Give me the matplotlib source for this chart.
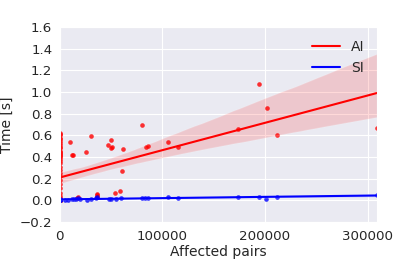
import numpy as np
import pandas as pd
import matplotlib
matplotlib.use('Agg')
import matplotlib.pyplot as plt
import seaborn as sns

# AI runs: affected pairs vs time (many runs with 0 pairs, most hidden near the origin)
ai_x = [0] * 57 + [
    9750, 11400, 13000, 16300, 18000, 25400, 30000, 35800, 35800, 35800,
    47100, 49400, 49500, 51000, 53700, 58200, 60500, 61500, 80300, 84000,
    85500, 105000, 114800, 174000, 194100, 201600, 212000, 309000,
]
ai_y = [
    0.62, 0.61, 0.60, 0.58, 0.57, 0.55, 0.53, 0.51, 0.49, 0.48,
    0.46, 0.45, 0.44, 0.43, 0.42, 0.41, 0.40, 0.38, 0.36, 0.34,
    0.31, 0.28, 0.25, 0.22, 0.19, 0.15, 0.11, 0.07, 0.04, 0.02, 0.01,
    0.005, 0.005, 0.005, 0.005, 0.005, 0.005, 0.005, 0.005, 0.005, 0.005,
    0.005, 0.005, 0.005, 0.005, 0.005, 0.005, 0.005, 0.005, 0.005, 0.005,
    0.005, 0.005, 0.005, 0.005, 0.005, 0.005,
    0.54, 0.42, 0.42, 0.02, 0.03, 0.45, 0.59, 0.03, 0.05, 0.06,
    0.51, 0.56, 0.48, 0.49, 0.065, 0.09, 0.27, 0.47, 0.70, 0.49,
    0.50, 0.54, 0.49, 0.66, 1.07, 0.85, 0.60, 0.67,
]

# SI runs
si_x = [
    0, 0, 0, 0, 0, 5000, 8000, 12000, 14000, 16000, 18000, 20000, 26000,
    30000, 35000, 36000, 48000, 50000, 55000, 60000, 80000, 83000, 86000,
    105000, 115000, 174000, 194000, 201000, 212000, 309000,
]
si_y = [
    0.0, 0.005, 0.01, 0.0, 0.005, 0.0, 0.005, 0.01, 0.01, 0.015, 0.02, 0.01, 0.005,
    0.01, 0.02, 0.035, 0.01, 0.015, 0.01, 0.02, 0.02, 0.025, 0.02,
    0.03, 0.02, 0.035, 0.03, 0.01, 0.03, 0.05,
]

ai = pd.DataFrame({'pairs': ai_x, 'time': ai_y})
si = pd.DataFrame({'pairs': si_x, 'time': si_y})

sns.set_style('darkgrid')
plt.rcParams['font.family'] = ['DejaVu Sans']

fig = plt.figure(figsize=(4.07, 2.71), dpi=100)
ax = fig.add_axes([0.147, 0.181, 0.779, 0.719])

sns.regplot(x='pairs', y='time', data=ai, ax=ax, color='red', seed=0,
            scatter_kws={'s': 11, 'linewidths': 0},
            line_kws={'label': 'AI', 'linewidth': 1.5})
sns.regplot(x='pairs', y='time', data=si, ax=ax, color='blue', seed=0,
            scatter_kws={'s': 11, 'linewidths': 0},
            line_kws={'label': 'SI', 'linewidth': 1.5})

ax.set_xlim(0, max(ai_x))
ax.set_ylim(-0.2, 1.6)
ax.set_xticks([0, 100000, 200000, 300000])
ax.set_yticks([-0.2, 0.0, 0.2, 0.4, 0.6, 0.8, 1.0, 1.2, 1.4, 1.6])
ax.ticklabel_format(axis='x', style='plain', useOffset=False)
ax.tick_params(labelsize=9.6, colors='.15', pad=2)
ax.set_xlabel('Affected pairs', fontsize=10, color='.15', labelpad=2)
ax.set_ylabel('Time [s]', fontsize=10, color='.15', labelpad=4)
ax.legend(loc='upper right', frameon=False, fontsize=10)

fig.savefig('out.png', dpi=100)
